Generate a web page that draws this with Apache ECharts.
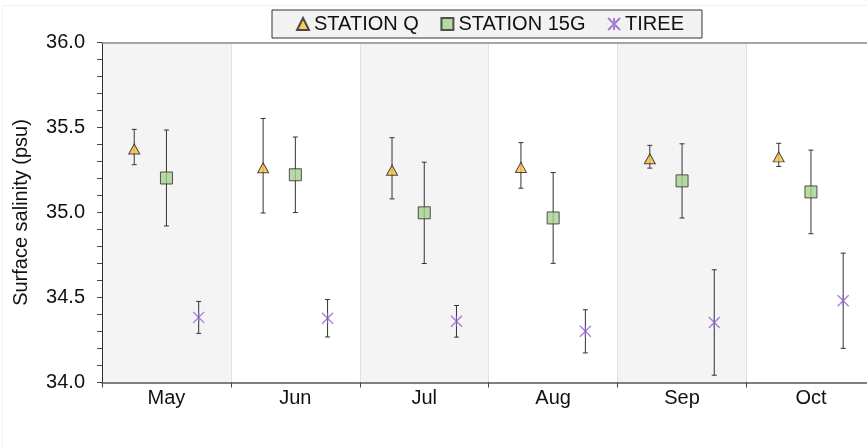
<!DOCTYPE html>
<html>
<head>
<meta charset="utf-8">
<script src="https://cdn.jsdelivr.net/npm/echarts@6/dist/echarts.min.js"></script>
<style>
  html, body { margin: 0; padding: 0; background: #ffffff; }
  #chart { width: 867px; height: 448px; }
</style>
</head>
<body>
<div id="chart"></div>
<script>
// Monthly surface salinity (psu): mean and standard deviation per station
const months = ['May', 'Jun', 'Jul', 'Aug', 'Sep', 'Oct'];

const stationQMean  = [35.385, 35.275, 35.26, 35.277, 35.328, 35.339];
const stationQSd    = [0.104, 0.278, 0.18, 0.134, 0.067, 0.068];

const station15GMean = [35.203, 35.222, 34.998, 34.968, 35.186, 35.121];
const station15GSd   = [0.282, 0.222, 0.298, 0.267, 0.218, 0.246];

const tireeMean = [34.383, 34.378, 34.36, 34.301, 34.353, 34.481];
const tireeSd   = [0.094, 0.11, 0.093, 0.127, 0.31, 0.28];

const yTicks = [34.0, 34.5, 35.0, 35.5, 36.0];

const FONT = "'Liberation Sans', Arial, Helvetica, sans-serif";

// position of each station inside a month band (fraction of band width)
const offsets = [0.25, 0.5, 0.75];

function points(mean, sd, k) {
  return mean.map((m, i) => [i + offsets[k], m, sd[i]]);
}

function errorBars(params, api) {
  const x = api.value(0), m = api.value(1), s = api.value(2);
  const top = api.coord([x, m + s]);
  const bot = api.coord([x, m - s]);
  const cap = 2.5;
  const st = { stroke: '#333333', lineWidth: 1 };
  return {
    type: 'group',
    children: [
      { type: 'line', shape: { x1: top[0], y1: top[1], x2: bot[0], y2: bot[1] }, style: st },
      { type: 'line', shape: { x1: top[0] - cap, y1: top[1], x2: top[0] + cap, y2: top[1] }, style: st },
      { type: 'line', shape: { x1: bot[0] - cap, y1: bot[1], x2: bot[0] + cap, y2: bot[1] }, style: st }
    ]
  };
}

const stations = [
  { name: 'STATION Q', mean: stationQMean, sd: stationQSd,
    symbol: 'triangle', size: [11, 10], offset: [0, 2],
    style: { color: '#f6c441', borderColor: '#222222', borderWidth: 1 } },
  { name: 'STATION 15G', mean: station15GMean, sd: station15GSd,
    symbol: 'rect', size: 12, offset: [0, 0],
    style: { color: '#a9d18e', borderColor: '#2b2b2b', borderWidth: 1 } },
  { name: 'TIREE', mean: tireeMean, sd: tireeSd,
    symbol: 'path://M0,0L10,10M10,0L0,10M5,0L5,10', size: 11, offset: [0, 0],
    style: { color: 'rgba(0,0,0,0)', borderColor: '#8e5fca', borderWidth: 1.3 } }
];

const series = [];
stations.forEach((s, k) => {
  const data = points(s.mean, s.sd, k);
  series.push({
    type: 'custom',
    xAxisIndex: 1,
    yAxisIndex: 0,
    z: 2,
    silent: true,
    renderItem: errorBars,
    encode: { x: 0, y: 1 },
    data: data
  });
  series.push({
    type: 'scatter',
    name: s.name,
    xAxisIndex: 1,
    yAxisIndex: 0,
    z: 3,
    symbol: s.symbol,
    symbolSize: s.size,
    symbolOffset: s.offset,
    itemStyle: s.style,
    data: data.map(d => [d[0], d[1]])
  });
});

const chart = echarts.init(document.getElementById('chart'), null, { renderer: 'canvas' });

chart.setOption({
  animation: false,
  backgroundColor: '#ffffff',
  textStyle: { fontFamily: FONT },
  graphic: [{
    type: 'rect',
    silent: true,
    z: -1,
    shape: { x: 2.5, y: 5.5, width: 900, height: 500 },
    style: { fill: 'none', stroke: '#f0f0f0', lineWidth: 1 }
  }],
  legend: {
    data: stations.map(s => s.name),
    left: 272,
    top: 10,
    padding: [4, 18, 4, 24],
    itemGap: 21.6,
    itemWidth: 12,
    itemHeight: 12,
    backgroundColor: '#f2f2f2',
    borderColor: '#333333',
    borderWidth: 1,
    borderRadius: 0,
    textStyle: { fontFamily: FONT, fontSize: 20, color: '#111111', padding: [0, 0, 0, 0] }
  },
  grid: {
    left: 102, right: -8.4, top: 42.5, bottom: 65.5,
    containLabel: false,
    outerBoundsMode: 'none'
  },
  xAxis: [{
    type: 'category',
    data: months,
    position: 'bottom',
    boundaryGap: true,
    axisLine: { show: true, lineStyle: { color: '#555555', width: 1.5 } },
    axisTick: { show: true, inside: false, length: 5, lineStyle: { color: '#444444' } },
    axisLabel: { fontFamily: FONT, fontSize: 20, color: '#111111', margin: 6 },
    splitLine: { show: true, lineStyle: { color: '#e2e2e2', width: 1 } },
    splitArea: { show: true, areaStyle: { color: ['#f4f4f4', 'rgba(255,255,255,0)'] } }
  }, {
    type: 'value',
    min: 0,
    max: 6,
    position: 'top',
    axisLine: { show: true, onZero: false, lineStyle: { color: '#8a8a8a', width: 1.5 } },
    axisTick: { show: false },
    axisLabel: { show: false },
    splitLine: { show: false }
  }],
  yAxis: [{
    type: 'value',
    min: yTicks[0],
    max: yTicks[yTicks.length - 1],
    interval: 0.5,
    name: 'Surface salinity (psu)',
    nameLocation: 'middle',
    nameGap: 71,
    nameTextStyle: { fontFamily: FONT, fontSize: 20, color: '#111111' },
    axisLine: { show: true, lineStyle: { color: '#333333', width: 1 } },
    axisTick: { show: true, inside: false, length: 5, lineStyle: { color: '#444444' } },
    minorTick: { show: true, splitNumber: 5, length: 5, lineStyle: { color: '#444444' } },
    axisLabel: {
      fontFamily: FONT, fontSize: 20, color: '#111111', margin: 17,
      formatter: v => v.toFixed(1)
    },
    splitLine: { show: false }
  }],
  series: series
});
</script>
</body>
</html>
